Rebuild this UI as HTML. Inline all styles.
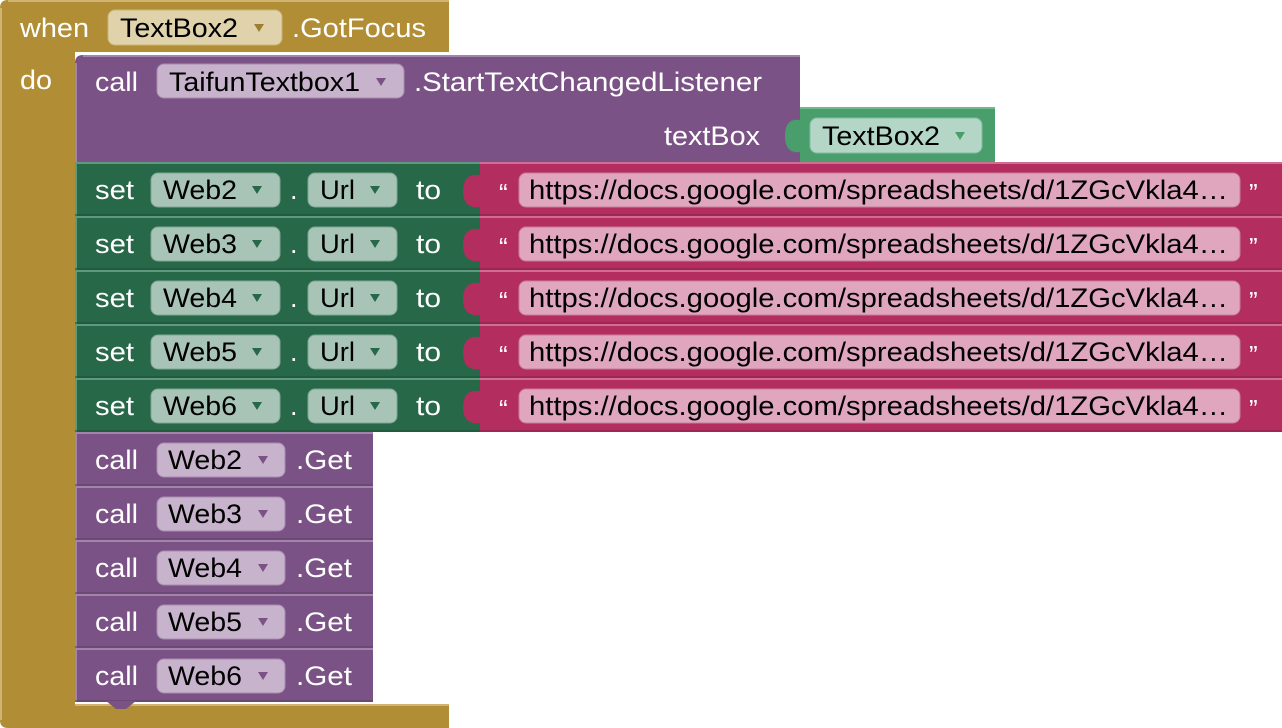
<!DOCTYPE html>
<html><head><meta charset="utf-8"><style>
html,body{margin:0;padding:0;background:#fff;width:1282px;height:728px;overflow:hidden}
text{font-family:"Liberation Sans",Arial,sans-serif;font-size:27px}
.w{fill:#fff}.b{fill:#000}
</style></head><body>
<svg width="1282" height="728" viewBox="0 0 1282 728" xmlns="http://www.w3.org/2000/svg">
<!-- event block -->
<path d="M8,0 H449 V52 H75 V705 H449 V728 H8 Q0,728 0,720 V8 Q0,0 8,0 Z" fill="#b18e35"/>
<path d="M8,1 H449" stroke="#cfb56f" stroke-width="2"/>
<path d="M1,8 V720" stroke="#cfb56f" stroke-width="2"/>
<path d="M75,705 H449" stroke="#cfb56f" stroke-width="2"/>
<rect x="108" y="10" width="174" height="35" rx="7" fill="#e0d3ab" stroke="#c9b47a"/>
<text x="20" y="37" class="w" textLength="69" lengthAdjust="spacingAndGlyphs">when</text>
<text x="120" y="37" class="b" textLength="118" lengthAdjust="spacingAndGlyphs">TextBox2</text>
<path d="M254,24 l10,0 l-5,8 z" fill="#9c7e30"/>
<text x="292" y="37" class="w" textLength="134" lengthAdjust="spacingAndGlyphs">.GotFocus</text>
<text x="20" y="89" class="w" textLength="32" lengthAdjust="spacingAndGlyphs">do</text>

<!-- call StartTextChangedListener -->
<path d="M83,55 H800 V162 H75 V63 Q75,55 83,55 Z" fill="#7b5285"/>
<path d="M83,56 H800" stroke="#a285aa" stroke-width="2"/>
<path d="M76,63 V162" stroke="#a285aa" stroke-width="2"/>
<rect x="157" y="64" width="247" height="34" rx="7" fill="#c8b3cc" stroke="#a98bb0"/>
<text x="95" y="91" class="w" textLength="43" lengthAdjust="spacingAndGlyphs">call</text>
<text x="169" y="91" class="b" textLength="191" lengthAdjust="spacingAndGlyphs">TaifunTextbox1</text>
<path d="M376,78 l10,0 l-5,8 z" fill="#7b5285"/>
<text x="414" y="91" class="w" textLength="348" lengthAdjust="spacingAndGlyphs">.StartTextChangedListener</text>
<text x="664" y="145" class="w" textLength="96" lengthAdjust="spacingAndGlyphs">textBox</text>
<!-- green value -->
<rect x="800" y="107" width="195" height="55" fill="#4a9e6c"/>
<path d="M800,108 H995" stroke="#6fbb8e" stroke-width="2"/>
<path d="M800,120 q-15,-2 -15,16 q0,18 15,16 z" fill="#4a9e6c"/>
<rect x="810" y="118" width="172" height="35" rx="7" fill="#b3d6c6" stroke="#86bca2"/>
<text x="822" y="145" class="b" textLength="118" lengthAdjust="spacingAndGlyphs">TextBox2</text>
<path d="M955,132 l10,0 l-5,8 z" fill="#4a9e6c"/>

<!-- set rows -->
<g id="r0">
<rect x="75" y="162" width="405" height="54" fill="#276849"/>
<path d="M75,163 H480" stroke="#5f9a7e" stroke-width="2"/>
<path d="M76,162 V216" stroke="#5f9a7e" stroke-width="2"/>
<path d="M75,215 H480" stroke="#1c4c35" stroke-width="1"/>
<rect x="151" y="173" width="129" height="34" rx="7" fill="#a8c4b6" stroke="#7fa594"/>
<rect x="308" y="173" width="89" height="34" rx="7" fill="#a8c4b6" stroke="#7fa594"/>
<text x="95" y="199" class="w" textLength="39" lengthAdjust="spacingAndGlyphs">set</text>
<text x="290" y="199" class="w">.</text>
<text x="416" y="199" class="w" textLength="25" lengthAdjust="spacingAndGlyphs">to</text>
<path d="M252,186 l10,0 l-5,8 z" fill="#276849"/>
<path d="M370,186 l10,0 l-5,8 z" fill="#276849"/>
<rect x="480" y="162" width="802" height="54" fill="#b32d5e"/>
<path d="M480,163 H1282" stroke="#cf6d92" stroke-width="2"/>
<path d="M480,215 H1282" stroke="#8a2048" stroke-width="1"/>
<path d="M480,175 q-17,-2 -17,16 q0,18 17,16 z" fill="#b32d5e"/>
<rect x="519" y="173" width="721" height="34" rx="7" fill="#dfa6bd" stroke="#c77d9b"/>
<text x="499" y="202" class="w" style="font-size:26px">“</text>
<text x="1249" y="202" class="w" style="font-size:26px">”</text>
<text x="529" y="199" class="b" textLength="699" lengthAdjust="spacingAndGlyphs">https://docs.google.com/spreadsheets/d/1ZGcVkla4…</text>
</g>
<text x="163" y="199" class="b" textLength="74" lengthAdjust="spacingAndGlyphs">Web2</text>
<text x="320" y="199" class="b" textLength="35" lengthAdjust="spacingAndGlyphs">Url</text>
<use href="#r0" y="54"/><text x="163" y="253" class="b" textLength="74" lengthAdjust="spacingAndGlyphs">Web3</text><text x="320" y="253" class="b" textLength="35" lengthAdjust="spacingAndGlyphs">Url</text>
<use href="#r0" y="108"/><text x="163" y="307" class="b" textLength="74" lengthAdjust="spacingAndGlyphs">Web4</text><text x="320" y="307" class="b" textLength="35" lengthAdjust="spacingAndGlyphs">Url</text>
<use href="#r0" y="162"/><text x="163" y="361" class="b" textLength="74" lengthAdjust="spacingAndGlyphs">Web5</text><text x="320" y="361" class="b" textLength="35" lengthAdjust="spacingAndGlyphs">Url</text>
<use href="#r0" y="216"/><text x="163" y="415" class="b" textLength="74" lengthAdjust="spacingAndGlyphs">Web6</text><text x="320" y="415" class="b" textLength="35" lengthAdjust="spacingAndGlyphs">Url</text>

<!-- call get rows -->
<g id="g0">
<rect x="75" y="432" width="298" height="54" fill="#7b5285"/>
<path d="M75,433 H373" stroke="#a285aa" stroke-width="2"/>
<path d="M76,432 V486" stroke="#a285aa" stroke-width="2"/>
<path d="M75,485 H373" stroke="#5c3d64" stroke-width="1"/>
<rect x="157" y="443" width="128" height="34" rx="7" fill="#c8b3cc" stroke="#a98bb0"/>
<text x="95" y="469" class="w" textLength="43" lengthAdjust="spacingAndGlyphs">call</text>
<text x="296" y="469" class="w" textLength="56" lengthAdjust="spacingAndGlyphs">.Get</text>
<path d="M258,456 l10,0 l-5,8 z" fill="#7b5285"/>
</g>
<text x="168" y="469" class="b" textLength="74" lengthAdjust="spacingAndGlyphs">Web2</text>
<use href="#g0" y="54"/><text x="168" y="523" class="b" textLength="74" lengthAdjust="spacingAndGlyphs">Web3</text>
<use href="#g0" y="108"/><text x="168" y="577" class="b" textLength="74" lengthAdjust="spacingAndGlyphs">Web4</text>
<use href="#g0" y="162"/><text x="168" y="631" class="b" textLength="74" lengthAdjust="spacingAndGlyphs">Web5</text>
<use href="#g0" y="216"/><text x="168" y="685" class="b" textLength="74" lengthAdjust="spacingAndGlyphs">Web6</text>
<path d="M106,701 l10,8 h10 l10,-8 z" fill="#7b5285"/>
</svg>
</body></html>
